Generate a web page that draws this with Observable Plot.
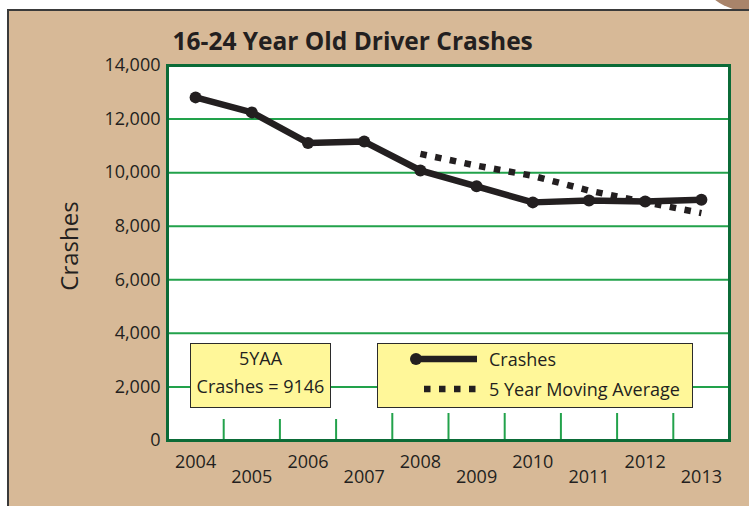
<!DOCTYPE html>
<html>
<head>
<meta charset="utf-8">
<script src="https://cdn.jsdelivr.net/npm/d3@7"></script>
<script src="https://cdn.jsdelivr.net/npm/@observablehq/plot@0.6"></script>
<style>
  html, body { margin: 0; padding: 0; background: #fff; }
  #wrap { position: relative; width: 749px; height: 506px; overflow: hidden; background: #fff; font-family: "Open Sans", sans-serif; color: #231f20; }
  #blob { position: absolute; left: 706px; top: -46px; width: 120px; height: 60px; border-radius: 50%; background: #a9846a; }
  #panel { position: absolute; left: 7px; top: 9px; width: 760px; height: 520px; background: #d7b997; border-top: 2px solid #3a3a3a; border-left: 2px solid #3a3a3a; }
  #chart { position: absolute; left: 0; top: 0; }
  .box { position: absolute; box-sizing: border-box; background: #fff799; border: 1.5px solid #2b2b2b; font-size: 18px; }
  #box1 { left: 190px; top: 343px; width: 141px; height: 65px; text-align: center; line-height: 28px; padding-top: 0px; }
  #box2 { left: 377px; top: 343px; width: 316px; height: 65px; }
  #box2 .lab { position: absolute; left: 111px; line-height: 20px; white-space: nowrap; }
  #box2 svg { position: absolute; left: 0; top: 0; }
</style>
</head>
<body>
<div id="wrap">
  <div id="blob"></div>
  <div id="panel"></div>
  <div id="chart"></div>
  <div class="box" id="box1"><div id="yaaTitle"></div><div id="yaaValue"></div></div>
  <div class="box" id="box2">
    <svg width="316" height="65">
      <line x1="37" x2="99" y1="15" y2="15" stroke="#231f20" stroke-width="6.5"/>
      <circle cx="38" cy="15" r="6" fill="#231f20"/>
      <line x1="46" x2="100" y1="45" y2="45" stroke="#231f20" stroke-width="6.5" stroke-dasharray="6.5,8.5"/>
    </svg>
    <div class="lab" id="lab1" style="top:5px"></div>
    <div class="lab" id="lab2" style="top:35px"></div>
  </div>
</div>
<script>
const title = "16-24 Year Old Driver Crashes";
const yLabel = "Crashes";
const years = [2004, 2005, 2006, 2007, 2008, 2009, 2010, 2011, 2012, 2013];
const crashes = [12810, 12250, 11110, 11160, 10080, 9490, 8890, 8960, 8920, 8990];
const maYears = [2008, 2009, 2010, 2011, 2012, 2013];
const movingAvg = [10700, 10260, 9880, 9330, 8900, 8490];
const yTicks = [0, 2000, 4000, 6000, 8000, 10000, 12000, 14000];
const seriesNames = ["Crashes", "5 Year Moving Average"];
const yaaLabel = "5YAA";
const yaaText = "Crashes = 9146";

document.getElementById("yaaTitle").textContent = yaaLabel;
document.getElementById("yaaValue").textContent = yaaText;
document.getElementById("lab1").textContent = seriesNames[0];
document.getElementById("lab2").textContent = seriesNames[1];

const crashData = years.map((x, i) => ({x, y: crashes[i]}));
const maData = maYears.map((x, i) => ({x, y: movingAvg[i]}));
const gridValues = yTicks.slice(1, -1);
const bandEdges = years.slice(0, -1).map(y => y + 0.5);
const ink = "#231f20";
const gridGreen = "#22a24b";

const chart = Plot.plot({
  width: 749,
  height: 506,
  marginLeft: 167,
  marginRight: 20,
  marginTop: 65,
  marginBottom: 66,
  x: {domain: [2003.5, 2013.5]},
  y: {domain: [0, 14000]},
  style: {background: "transparent", fontFamily: "Open Sans, sans-serif", color: ink},
  marks: [
    Plot.frame({fill: "white"}),
    Plot.ruleY(gridValues, {stroke: gridGreen, strokeWidth: 2}),
    Plot.ruleX(bandEdges.slice(0, 3), {stroke: gridGreen, strokeWidth: 2, insetTop: 354}),
    Plot.ruleX(bandEdges.slice(3), {stroke: gridGreen, strokeWidth: 2, insetTop: 348}),
    Plot.axisY(yTicks, {tickSize: 0, tickPadding: 7, tickFormat: d3.format(","), fontSize: 18, label: null, fill: ink}),
    Plot.axisX(years.filter(d => d % 2 === 0), {tickSize: 0, tickPadding: 15, tickFormat: d => String(d), fontSize: 18, label: null, fill: ink}),
    Plot.axisX(years.filter(d => d % 2 === 1), {tickSize: 0, tickPadding: 30, tickFormat: d => String(d), fontSize: 18, label: null, fill: ink}),
    Plot.line(maData, {x: "x", y: "y", stroke: ink, strokeWidth: 6.5, strokeDasharray: "6.5,8.5", strokeLinecap: "butt", strokeLinejoin: "miter"}),
    Plot.line(crashData, {x: "x", y: "y", stroke: ink, strokeWidth: 6.5}),
    Plot.dot(crashData, {x: "x", y: "y", r: 6, fill: ink}),
    Plot.frame({stroke: "#0b6b37", strokeWidth: 3}),
    Plot.text([title], {frameAnchor: "top-left", dx: 5, dy: -16, lineAnchor: "bottom", textAnchor: "start", fontSize: 24.5, fontWeight: "bold", fill: ink}),
    Plot.text([yLabel], {frameAnchor: "left", dx: -97, dy: -7, rotate: -90, textAnchor: "middle", lineAnchor: "middle", fontSize: 24, fill: ink})
  ]
});
document.getElementById("chart").appendChild(chart);
</script>
</body>
</html>
